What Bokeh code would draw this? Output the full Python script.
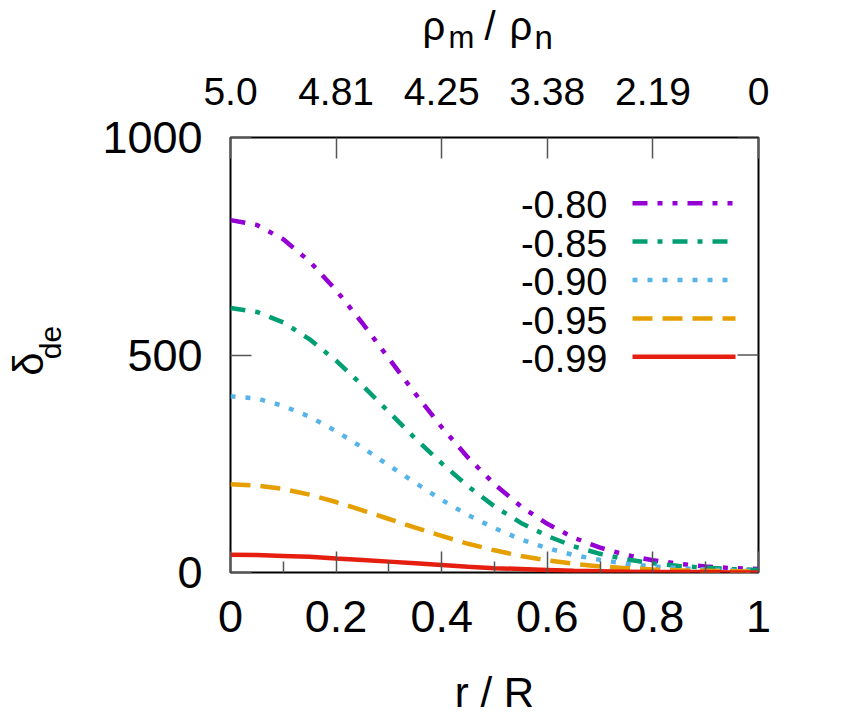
from math import pi
from bokeh.plotting import figure
from bokeh.layouts import column, row
from bokeh.models import FixedTicker, Label, Range1d, LinearAxis
from bokeh.core.properties import value
from bokeh.embed import file_html
from bokeh.resources import INLINE

# ---------------- data ----------------
r = [0.00, 0.05, 0.10, 0.15, 0.20, 0.25, 0.30, 0.35, 0.40, 0.45, 0.50,
     0.55, 0.60, 0.65, 0.70, 0.75, 0.80, 0.85, 0.90, 0.95, 1.00]
d_080 = [810, 799, 766, 715, 649, 573, 492, 411, 334, 264, 203, 152, 112, 80, 57, 40, 28, 20, 14, 10, 8]
d_085 = [608, 599, 575, 536, 487, 430, 369, 308, 251, 198, 152, 114, 84, 60, 43, 30, 21, 15, 11, 8, 6]
d_090 = [405, 400, 383, 358, 325, 287, 246, 206, 167, 132, 102, 76, 56, 40, 29, 20, 14, 10, 7, 5, 4]
d_095 = [203, 200, 192, 179, 162, 143, 123, 103, 84, 66, 51, 38, 28, 20, 14, 10, 7, 5, 4, 3, 2]
d_099 = [41, 40, 38, 36, 32, 29, 25, 21, 17, 13, 10, 8, 6, 4, 3, 2, 1, 1, 1, 0, 0]

series_labels = ["-0.80", "-0.85", "-0.90", "-0.95", "-0.99"]
series_values = [d_080, d_085, d_090, d_095, d_099]

x_ticks = [0.0, 0.2, 0.4, 0.6, 0.8, 1.0]
x_minor = [0.1, 0.3, 0.5, 0.7, 0.9]
y_ticks = [0, 500, 1000]
top_ticks = [0.0, 0.2, 0.4, 0.6, 0.8, 1.0]
top_labels = ["5.0", "4.81", "4.25", "3.38", "2.19", "0"]

x_title = "r / R"

# ---------------- style ----------------
colors = ["#9400D3", "#009E73", "#56B4E9", "#E69F00", "#E51E10"]
dashes = ["15 10 5 10 5 10", "15 10 5 10", "5 10", "20 10", "solid"]
FONT = "Liberation Sans"
LW = 4.5
BFIX = 0.31              # empirical baseline correction (fraction of font size)

# page-pixel layout
W, H = 835, 718
HT = 55                  # top strip height (holds the top title)
WL = 75                  # left strip width (holds the y title)
FL, FR, FT, FB = 230, 758, 137, 572   # frame edges in page pixels
X0, X1, Y0, Y1 = 0.0, 1.0, 0.0, 1000.0
TICK_MAJ, TICK_MIN = 21, 11

MW, MH = W - WL, H - HT


def px2x(px):
    return X0 + (px - FL) / (FR - FL) * (X1 - X0)


def py2y(py):
    return Y0 + (FB - py) / (FB - FT) * (Y1 - Y0)


# ---------------- main plot ----------------
p = figure(width=MW, height=MH, x_range=Range1d(X0, X1), y_range=Range1d(Y0, Y1),
           output_backend="svg", toolbar_location=None,
           min_border_left=FL - WL, min_border_right=MW - (FR - WL),
           min_border_top=FT - HT, min_border_bottom=MH - (FB - HT))
p.xgrid.visible = False
p.ygrid.visible = False
p.outline_line_color = "black"
p.outline_line_width = 2
p.background_fill_color = "white"
p.border_fill_color = "white"

bottom = p.xaxis[0]
left = p.yaxis[0]
bottom.ticker = FixedTicker(ticks=x_ticks, minor_ticks=x_minor)
left.ticker = FixedTicker(ticks=y_ticks)
top = LinearAxis(ticker=FixedTicker(ticks=top_ticks),
                 major_label_overrides=dict(zip(top_ticks, top_labels)))
p.add_layout(top, "above")

for ax in (bottom, left, top):
    ax.axis_line_color = None
    ax.major_tick_in = TICK_MAJ
    ax.major_tick_out = 0
    ax.minor_tick_in = TICK_MIN
    ax.minor_tick_out = 0
    ax.major_tick_line_color = "#555555"
    ax.major_tick_line_width = 1.5
    ax.minor_tick_line_color = "#555555"
    ax.minor_tick_line_width = 1.5
    ax.major_label_text_font = FONT
    ax.major_label_text_color = "black"

for ax in (bottom, left):
    ax.major_label_text_font_size = "45px"
    ax.major_label_standoff = 28
top.major_label_text_font_size = "39px"
top.major_label_standoff = 33

bottom.axis_label = x_title
bottom.axis_label_text_font = FONT
bottom.axis_label_text_font_size = "42px"
bottom.axis_label_text_font_style = "normal"
bottom.axis_label_text_color = "black"
bottom.axis_label_standoff = 34

# mirrored tick marks on the right edge (at the y tick values)
tick_len = TICK_MAJ / (FR - FL) * (X1 - X0)
p.segment(x0=[X1 - tick_len] * len(y_ticks), y0=y_ticks, x1=[X1] * len(y_ticks), y1=y_ticks,
          line_color="#555555", line_width=1.5)

# curves
for vals, c, d in zip(series_values, colors, dashes):
    p.line(r, vals, line_color=c, line_width=LW, line_dash=d)

# legend: text left of the sample line
LEG_ROW0, LEG_DY, LEG_FS = 202.7, 38.4, 38
for i, (lab, c, d) in enumerate(zip(series_labels, colors, dashes)):
    rowy = LEG_ROW0 + LEG_DY * i
    p.add_layout(Label(x=px2x(607), y=py2y(rowy + 13.5 - BFIX * LEG_FS), text=lab,
                       text_align="right", text_baseline="alphabetic", text_font=FONT,
                       text_font_size=f"{LEG_FS}px", text_color="black"))
    p.line([px2x(632), px2x(735)], [py2y(rowy), py2y(rowy)],
           line_color=c, line_width=LW, line_dash=d)

# ---------------- top strip: rho_m / rho_n ----------------
ts = figure(width=W, height=HT, x_range=Range1d(0, W), y_range=Range1d(0, HT),
            output_backend="svg", toolbar_location=None,
            min_border=0, min_border_left=0, min_border_right=0,
            min_border_top=0, min_border_bottom=0)
ts.axis.visible = False
ts.grid.visible = False
ts.outline_line_color = None
top_parts = ["\u03c1", "m", "/", "\u03c1", "n"]
top_px = [422, 448, 484, 509, 534]
top_base = [38, 47, 38, 38, 47]
top_size = [40, 31, 40, 40, 33]
for t, xp, yb, fs in zip(top_parts, top_px, top_base, top_size):
    ts.text(x=[xp], y=[HT - (yb - BFIX * fs)], text=[t], text_font=value(FONT),
            text_font_size=value(f"{fs}px"), text_align="left",
            text_baseline="alphabetic", text_color="black")

# ---------------- left strip: delta_de ----------------
ls = figure(width=WL, height=MH, x_range=Range1d(0, WL), y_range=Range1d(0, MH),
            output_backend="svg", toolbar_location=None,
            min_border=0, min_border_left=0, min_border_right=0,
            min_border_top=0, min_border_bottom=0)
ls.axis.visible = False
ls.grid.visible = False
ls.outline_line_color = None
left_parts = ["\u03b4", "de"]
left_px = [41, 59]
left_start = [387, 362]
left_size = [42, 30]
ALONG_FIX = 31
for t, xb, ys, fs in zip(left_parts, left_px, left_start, left_size):
    ls.text(x=[xb - BFIX * fs], y=[H - (ys + ALONG_FIX)], text=[t], text_font=value(FONT),
            text_font_size=value(f"{fs}px"), text_align="left",
            text_baseline="alphabetic", angle=pi / 2, text_color="black")

layout = column(ts, row(ls, p, spacing=0), spacing=0)
open("out.html", "w").write(file_html(layout, INLINE))
